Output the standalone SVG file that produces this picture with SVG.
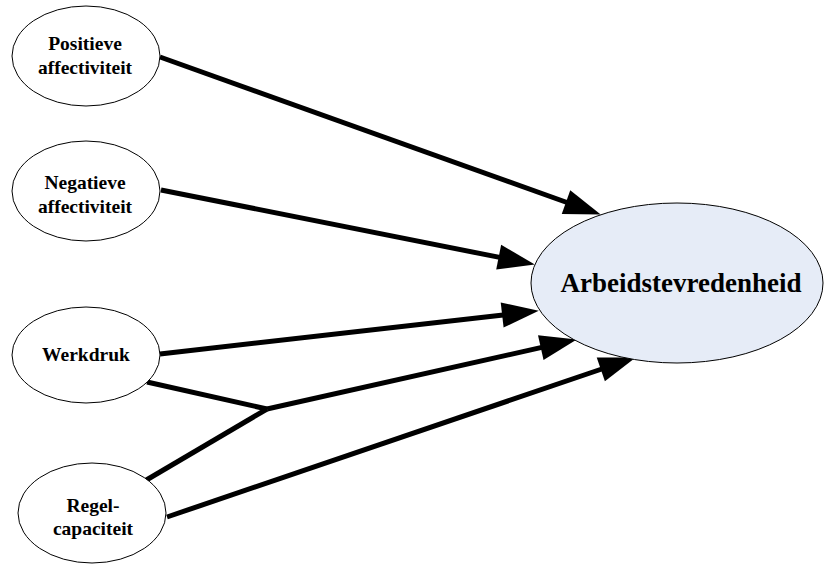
<svg xmlns="http://www.w3.org/2000/svg" width="824" height="565" viewBox="0 0 824 565">
<style>
.node ellipse{fill:#ffffff;stroke:#000000;stroke-width:1}
.node.main ellipse{fill:#e6ecf7}
.lbl{font-family:"Liberation Serif","Times New Roman",serif;font-weight:bold;font-size:19.5px;fill:#000;text-anchor:middle}
.big{font-size:27px}
.conn line,.conn polyline{stroke:#000;stroke-width:5;fill:none}
</style>
<defs>
<marker id="ah" markerUnits="userSpaceOnUse" markerWidth="40" markerHeight="30" viewBox="-1 -13 38 26" refX="0" refY="0" orient="auto" overflow="visible">
<path d="M-1,-12 L34,0 L-1,12 z" fill="#000"/>
</marker>
</defs>
<rect width="824" height="565" fill="#ffffff"/>
<g id="connectors" class="conn">
<line x1="160" y1="57" x2="567" y2="202.5" marker-end="url(#ah)"/>
<line x1="161" y1="190" x2="499.7" y2="257.4" marker-end="url(#ah)"/>
<line x1="160" y1="354" x2="503.2" y2="314.9" marker-end="url(#ah)"/>
<polyline points="147,382 267,409"/>
<polyline points="143,482 267,409"/>
<line x1="267" y1="409" x2="541.8" y2="347.4" marker-end="url(#ah)"/>
<line x1="167" y1="517" x2="601.8" y2="369" marker-end="url(#ah)"/>
</g>
<g id="arbeidstevredenheid" class="node main">
<ellipse cx="677" cy="283" rx="146" ry="80"/>
<text class="lbl big" x="681" y="292">Arbeidstevredenheid</text>
</g>
<g id="positieve" class="node">
<ellipse cx="86" cy="56" rx="74" ry="50"/>
<text class="lbl" x="85" y="50">Positieve</text>
<text class="lbl" x="85" y="74">affectiviteit</text>
</g>
<g id="negatieve" class="node">
<ellipse cx="86" cy="191" rx="74" ry="50"/>
<text class="lbl" x="85" y="189">Negatieve</text>
<text class="lbl" x="85" y="213">affectiviteit</text>
</g>
<g id="werkdruk" class="node">
<ellipse cx="86" cy="355" rx="74" ry="48"/>
<text class="lbl" x="86" y="361">Werkdruk</text>
</g>
<g id="regelcapaciteit" class="node">
<ellipse cx="92" cy="513" rx="74" ry="50"/>
<text class="lbl" x="93" y="512">Regel-</text>
<text class="lbl" x="93" y="535">capaciteit</text>
</g>
</svg>
